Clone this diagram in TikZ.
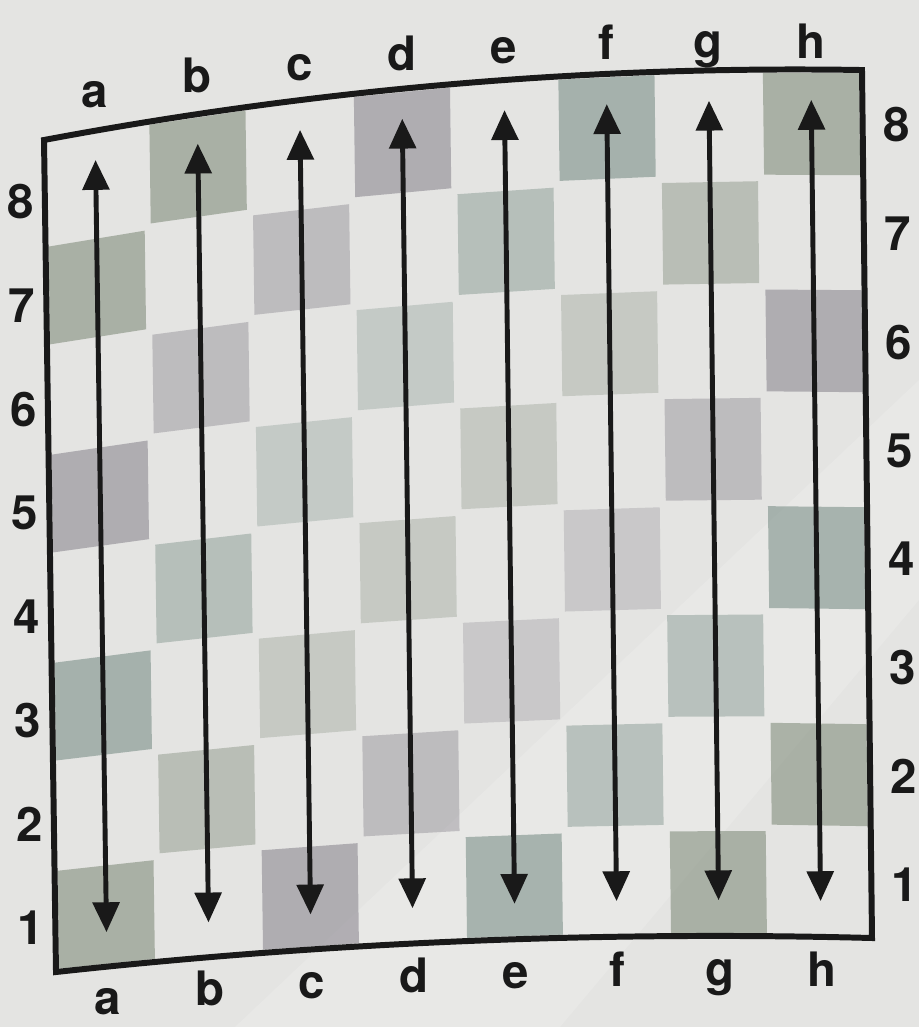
\documentclass[tikz,border=0pt]{standalone}
\usepackage{fontspec}
\usepackage{tikz}
\usetikzlibrary{arrows.meta, calc}
\usepackage{xcolor}

\newfontfamily\coordfont{TeX Gyre Heros}

\definecolor{paper}{RGB}{228,228,226}
\definecolor{sqGreen}{RGB}{122,134,116}
\definecolor{sqMauve}{RGB}{132,128,138}
\definecolor{sqTeal}{RGB}{114,136,128}

% point of the (slightly bent) board: file coordinate #1, rank coordinate #2 -> (\Px,\Py)
\newcommand{\BoardPt}[2]{%
  \pgfmathsetmacro{\Px}{56-1.5*(#2)+(#1)*(102+0.03125*(#2))}%
  \pgfmathsetmacro{\Ytop}{140-19.21*(#1)+1.308*(#1)*(#1)}%
  \pgfmathsetmacro{\Ybot}{972-11.17*(#1)+0.865*(#1)*(#1)}%
  \pgfmathsetmacro{\Py}{\Ybot+(#2)/8*(\Ytop-\Ybot)}%
}

\begin{document}
\begin{tikzpicture}[
                    % one unit = one pixel of the picture, y running down
                    x=0.02cm, y=-0.02cm,
                    % Default style for nodes
                    every node/.style={color=black!90}
                  ]
                  % --- styles ---
                  \tikzstyle{board edge}=[line width=3.4pt, color=black!90]
                  \tikzstyle{file arrow}=[line width=2.8pt, color=black!90,
                      {Triangle[width=15pt,length=17pt]}-{Triangle[width=15pt,length=17pt]}]
                  \tikzstyle{coord label}=[font=\coordfont\bfseries\fontsize{27}{27}\selectfont, inner sep=0pt]

                  % --- paper ---
                  \useasboundingbox (0,0) rectangle (919,1027);
                  \fill[paper] (0,0) rectangle (919,1027);
                  \fill[white, opacity=0.15] (235,1027) -- (919,380) -- (919,600) -- (560,1027) -- cycle;

                  % --- dark squares (a1 dark), paler towards the middle ---
  \foreach \f in {1,...,8} {
    \foreach \r in {1,...,8} {
      \pgfmathtruncatemacro{\Dark}{mod(\f+\r+1,2)}
      \ifnum\Dark=1
        \pgfmathtruncatemacro{\Ring}{min(min(\f-1,8-\f),min(\r-1,8-\r))}
        \pgfmathsetmacro{\Op}{\Ring==0 ? 0.55 : (\Ring==1 ? 0.4 : 0.28)}
        \pgfmathtruncatemacro{\Tint}{mod(2*\f+\r,3)}
        \edef\Tone{\ifcase\Tint sqGreen\or sqMauve\or sqTeal\fi}
        \BoardPt{\f-0.97}{\r-0.97} \coordinate (sqSW) at (\Px,\Py);
        \BoardPt{\f-0.03}{\r-0.97} \coordinate (sqSE) at (\Px,\Py);
        \BoardPt{\f-0.03}{\r-0.03} \coordinate (sqNE) at (\Px,\Py);
        \BoardPt{\f-0.97}{\r-0.03} \coordinate (sqNW) at (\Px,\Py);
        \fill[fill=\Tone, opacity=\Op] (sqSW) -- (sqSE) -- (sqNE) -- (sqNW) -- cycle;
      \fi
    }
  }

                  % --- board edge: bent top and bottom ---
  \draw[board edge] plot[domain=0:8, samples=41] ({44+102.25*\x}, {140-19.21*\x+1.308*\x*\x})
      -- plot[domain=8:0, samples=41] ({56+102*\x}, {972-11.17*\x+0.865*\x*\x}) -- cycle;

                  % --- file arrows and letters ---
  \foreach \File [count=\i] in {a,...,h} {
    \BoardPt{\i-0.5}{7.72} \coordinate (\File-top) at (\Px,\Py);
    \BoardPt{\i-0.5}{0.33} \coordinate (\File-bot) at (\Px,\Py);
    \draw[file arrow] (\File-bot) -- (\File-top);
    \BoardPt{\i-0.5}{8.22-0.017*(\i-1)}
    \node[coord label, anchor=base] (\File-label-top) at (\Px,\Py) {\File};
    \BoardPt{\i-0.5}{-0.46}
    \node[coord label, anchor=base] (\File-label-bot) at (\Px,\Py) {\File};
  }

                  % --- rank numbers ---
  \foreach \Rank in {1,...,8} {
    \BoardPt{-0.24}{\Rank-0.55}
    \node[coord label] (rank-\Rank-left) at (\Px,\Py) {\Rank};
    \BoardPt{8.33}{\Rank-0.5}
    \node[coord label] (rank-\Rank-right) at (\Px,\Py) {\Rank};
  }

\end{tikzpicture}
\end{document}
